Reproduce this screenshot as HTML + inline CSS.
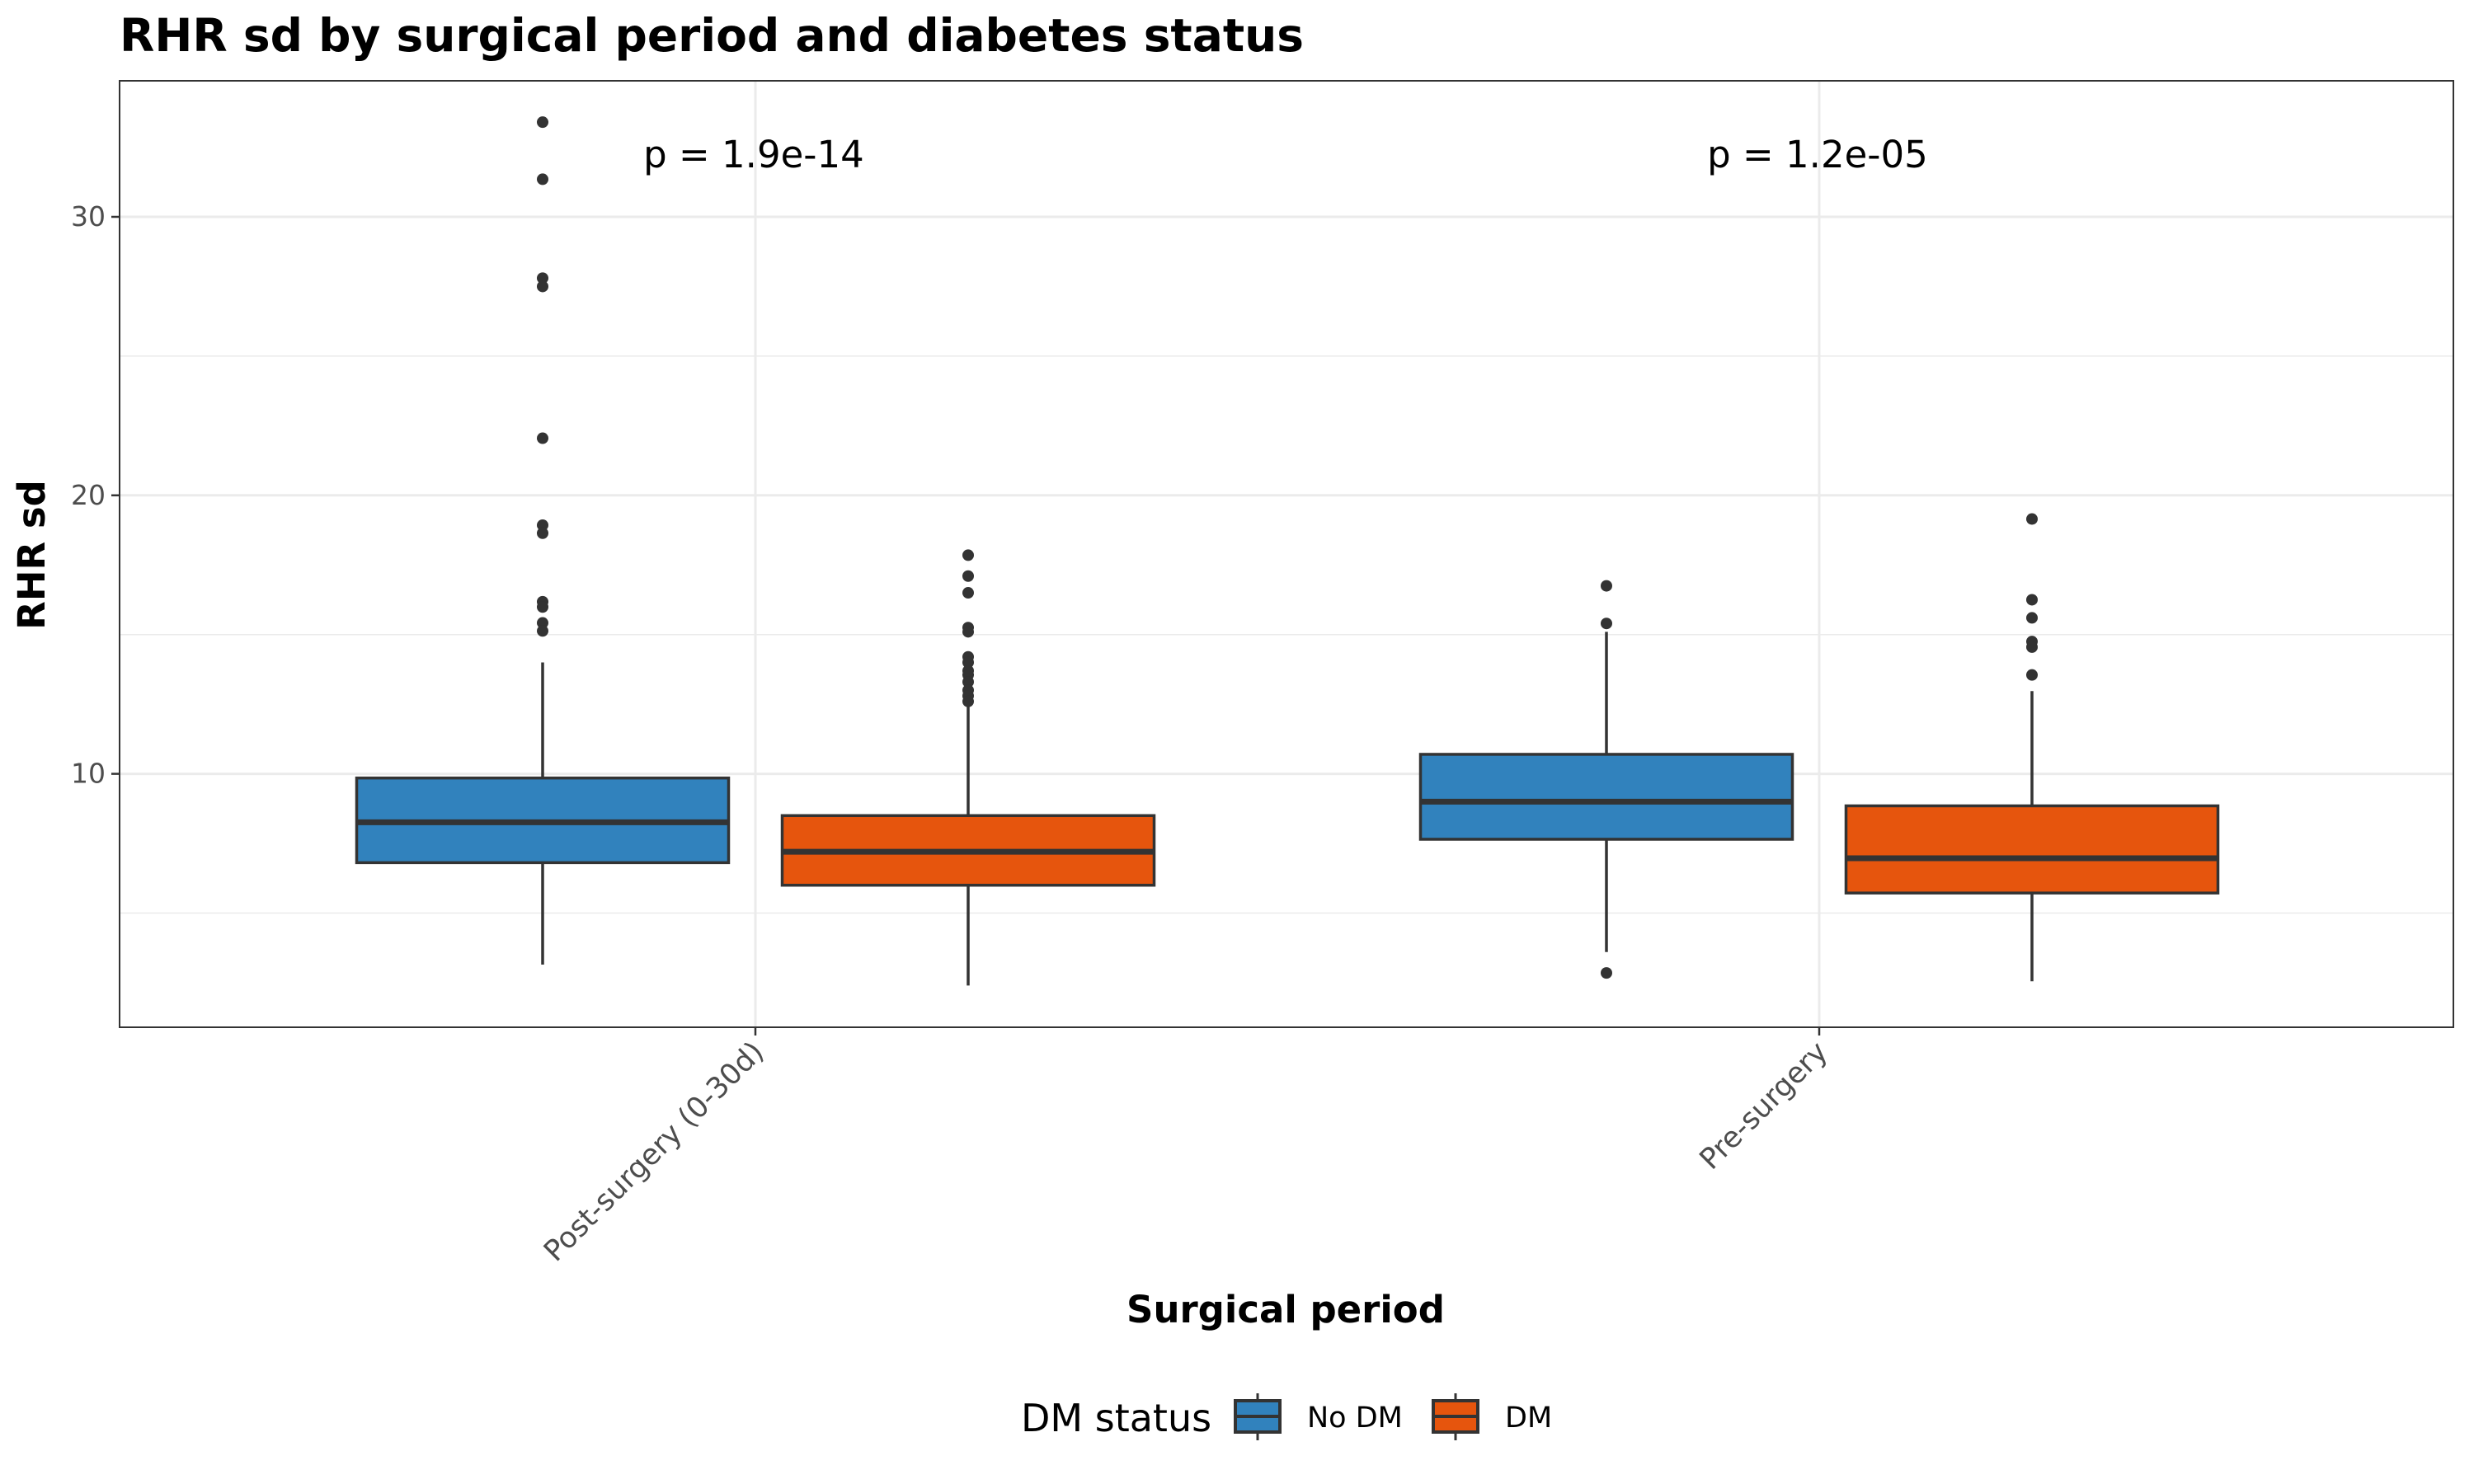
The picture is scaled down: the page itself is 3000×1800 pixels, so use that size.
<!DOCTYPE html>
<html><head><meta charset="utf-8"><style>
html,body{margin:0;padding:0;background:#fff;}
svg{display:block;font-family:"DejaVu Sans","Liberation Sans",sans-serif;}
</style></head><body>
<svg id="chart" width="3000" height="1800" viewBox="0 0 3000 1800" xmlns="http://www.w3.org/2000/svg">
<text x="145" y="62" font-size="55" font-weight="bold" fill="#000">RHR sd by surgical period and diabetes status</text>
<g id="grid"></g>
<g id="boxes"></g>
<rect x="145" y="98" width="2830" height="1148" fill="none" stroke="#333" stroke-width="2"/>
<g id="axes"></g>
<text x="54" y="673" font-size="45" font-weight="bold" text-anchor="middle" transform="rotate(-90 54 673)" fill="#000">RHR sd</text>
<text x="1559" y="1604" font-size="45" font-weight="bold" text-anchor="middle" fill="#000">Surgical period</text>
<g>
<text x="1238" y="1736" font-size="46" fill="#000">DM status</text>
<g>
<line x1="1525" y1="1690" x2="1525" y2="1747" stroke="#333" stroke-width="3"/>
<rect x="1498" y="1699" width="54" height="38" fill="#3182bd" stroke="#333" stroke-width="4"/>
<line x1="1498" y1="1718" x2="1552" y2="1718" stroke="#333" stroke-width="4"/>
<text x="1585" y="1731" font-size="35" fill="#000">No DM</text>
</g>
<g>
<line x1="1765" y1="1690" x2="1765" y2="1747" stroke="#333" stroke-width="3"/>
<rect x="1738" y="1699" width="54" height="38" fill="#e6550d" stroke="#333" stroke-width="4"/>
<line x1="1738" y1="1718" x2="1792" y2="1718" stroke="#333" stroke-width="4"/>
<text x="1825" y="1731" font-size="35" fill="#000">DM</text>
</g>
</g>
</svg>
<script>
const categories = ["Post-surgery (0-30d)", "Pre-surgery"];
const groups = ["No DM", "DM"];
const colors = ["#3182bd", "#e6550d"];
// [lowerWhisker, Q1, median, Q3, upperWhisker] per category, per group
const statsNoDM = [[3.15, 6.81, 8.26, 9.85, 14.0], [3.6, 7.65, 9.0, 10.7, 15.1]];
const statsDM = [[2.4, 6.0, 7.2, 8.5, 12.4], [2.55, 5.72, 6.97, 8.85, 12.97]];
const outliersNoDM = [[33.4, 31.35, 27.8, 27.5, 22.05, 18.93, 18.64, 16.18, 15.99, 15.42, 15.13], [16.75, 15.4, 2.85]];
const outliersDM = [[17.85, 17.1, 16.5, 15.25, 15.1, 14.2, 14.0, 13.7, 13.55, 13.3, 13.0, 12.8, 12.6], [19.15, 16.25, 15.6, 14.75, 14.55, 13.55]];
const pLabels = ["p = 1.9e-14", "p = 1.2e-05"];
const yTicks = [10, 20, 30];
const yMinor = [5, 15, 25];

const NS = "http://www.w3.org/2000/svg";
const y = v => 938.6 - (v - 10) * 33.78;
const xCat = i => 916 + i * 1290;
const dodge = 258, bw = 451;
function mk(tag, attrs, parent) {
  const e = document.createElementNS(NS, tag);
  for (const k in attrs) e.setAttribute(k, attrs[k]);
  parent.appendChild(e);
  return e;
}
const grid = document.getElementById('grid');
const axes = document.getElementById('axes');
const boxes = document.getElementById('boxes');
yMinor.forEach(v => {
  const l = mk('line', {x1:145, x2:2975, y1:y(v), y2:y(v), stroke:'#ebebeb', 'stroke-width':1.5}, grid);
  
  
});
yTicks.forEach(v => {
  const l = mk('line', {x1:145, x2:2975, y1:y(v), y2:y(v), stroke:'#ebebeb', 'stroke-width':3}, grid);
  
  
  const t = mk('line', {x1:135, x2:145, y1:y(v), y2:y(v), stroke:'#333', 'stroke-width':2.5}, axes);
  
  
  const tx = mk('text', {x:128, y:y(v)+11, 'font-size':33, fill:'#4d4d4d', 'text-anchor':'end'}, axes);
  tx.textContent = v;
  
  
});
categories.forEach((c, i) => {
  const l = mk('line', {x1:xCat(i), x2:xCat(i), y1:98, y2:1246, stroke:'#ebebeb', 'stroke-width':3}, grid);
  
  
  const t = mk('line', {x1:xCat(i), x2:xCat(i), y1:1246, y2:1256, stroke:'#333', 'stroke-width':2.5}, axes);
  
  
  const lx = xCat(i) + 12, ly = 1278;
  const tx = mk('text', {x:lx, y:ly, 'font-size':35, fill:'#4d4d4d', 'text-anchor':'end', transform:`rotate(-45 ${lx} ${ly})`}, axes);
  tx.textContent = c;
  
  
  const p = mk('text', {x:xCat(i)-2, y:203, 'font-size':45, fill:'#000', 'text-anchor':'middle'}, axes);
  p.textContent = pLabels[i];
  
  
});
[statsNoDM, statsDM].forEach((stats, g) => {
  const outs = g === 0 ? outliersNoDM : outliersDM;
  stats.forEach((s, i) => {
    const cx = xCat(i) + (g === 0 ? -dodge : dodge);
    const grp = mk('g', {}, boxes);
    
    
    mk('line', {x1:cx, x2:cx, y1:y(s[0]), y2:y(s[1]), stroke:'#333', 'stroke-width':3.5}, grp);
    mk('line', {x1:cx, x2:cx, y1:y(s[3]), y2:y(s[4]), stroke:'#333', 'stroke-width':3.5}, grp);
    mk('rect', {x:cx-bw/2, y:y(s[3]), width:bw, height:y(s[1])-y(s[3]), fill:colors[g], stroke:'#333', 'stroke-width':3.5}, grp);
    mk('line', {x1:cx-bw/2, x2:cx+bw/2, y1:y(s[2]), y2:y(s[2]), stroke:'#333', 'stroke-width':7}, grp);
    outs[i].forEach(v => {
      const c = mk('circle', {cx:cx, cy:y(v), r:7, fill:'#333'}, grp);
      
      
    });
  });
});
</script>
</body></html>
